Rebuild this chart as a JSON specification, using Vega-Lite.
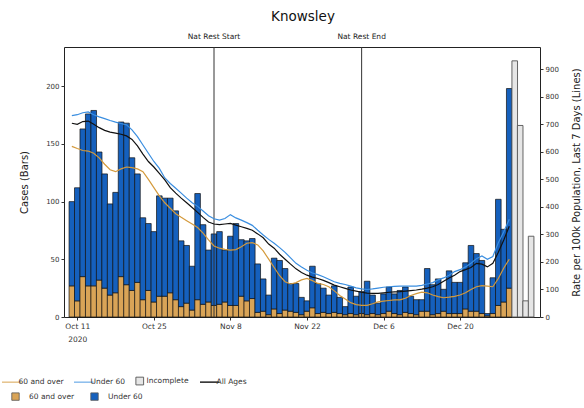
{
 "$schema": "https://vega.github.io/schema/vega-lite/v6.json",
 "width": 476,
 "height": 270,
 "autosize": {"type": "none"},
 "padding": {"left": 64, "top": 47, "right": 44, "bottom": 91},
 "background": "white",
 "config": {
  "font": "DejaVu Sans",
  "view": {"stroke": "#222", "strokeWidth": 1},
  "axis": {"domain": false, "grid": false, "labelFontSize": 7, "labelColor": "#333", "tickColor": "#333", "tickSize": 3, "labelPadding": 2, "titleFontWeight": "normal", "titleFontSize": 10, "titleColor": "#222"},
  "legend": {"labelFontSize": 7.5, "labelColor": "#333", "title": null}
 },
 "title": {"text": "Knowsley", "fontSize": 13.5, "fontWeight": "normal", "color": "#111", "frame": "group", "offset": 10, "dx": 1},
 "datasets": {
  "days": [
   {"date":"2020-10-10T00:00","o60":27,"u60":73,"ro60":620,"ru60":732,"rall":704},
   {"date":"2020-10-11T00:00","o60":14,"u60":98,"ro60":612,"ru60":735,"rall":700},
   {"date":"2020-10-12T00:00","o60":35,"u60":128,"ro60":605,"ru60":742,"rall":710},
   {"date":"2020-10-13T00:00","o60":27,"u60":149,"ro60":603,"ru60":745,"rall":712},
   {"date":"2020-10-14T00:00","o60":27,"u60":152,"ro60":595,"ru60":735,"rall":700},
   {"date":"2020-10-15T00:00","o60":32,"u60":111,"ro60":578,"ru60":727,"rall":688},
   {"date":"2020-10-16T00:00","o60":25,"u60":99,"ro60":555,"ru60":721,"rall":678},
   {"date":"2020-10-17T00:00","o60":19,"u60":79,"ro60":535,"ru60":714,"rall":672},
   {"date":"2020-10-18T00:00","o60":21,"u60":87,"ro60":528,"ru60":708,"rall":668},
   {"date":"2020-10-19T00:00","o60":35,"u60":134,"ro60":538,"ru60":703,"rall":664},
   {"date":"2020-10-20T00:00","o60":28,"u60":140,"ro60":545,"ru60":698,"rall":658},
   {"date":"2020-10-21T00:00","o60":23,"u60":115,"ro60":543,"ru60":680,"rall":645},
   {"date":"2020-10-22T00:00","o60":30,"u60":94,"ro60":538,"ru60":655,"rall":622},
   {"date":"2020-10-23T00:00","o60":15,"u60":71,"ro60":528,"ru60":625,"rall":592},
   {"date":"2020-10-24T00:00","o60":23,"u60":58,"ro60":500,"ru60":595,"rall":565},
   {"date":"2020-10-25T00:00","o60":13,"u60":61,"ro60":470,"ru60":565,"rall":545},
   {"date":"2020-10-26T00:00","o60":18,"u60":87,"ro60":440,"ru60":540,"rall":522},
   {"date":"2020-10-27T00:00","o60":18,"u60":85,"ro60":415,"ru60":505,"rall":498},
   {"date":"2020-10-28T00:00","o60":21,"u60":82,"ro60":395,"ru60":485,"rall":470},
   {"date":"2020-10-29T00:00","o60":15,"u60":77,"ro60":375,"ru60":468,"rall":450},
   {"date":"2020-10-30T00:00","o60":9,"u60":57,"ro60":362,"ru60":450,"rall":432},
   {"date":"2020-10-31T00:00","o60":12,"u60":50,"ro60":350,"ru60":432,"rall":415},
   {"date":"2020-11-01T00:00","o60":6,"u60":38,"ro60":338,"ru60":415,"rall":398},
   {"date":"2020-11-02T00:00","o60":15,"u60":92,"ro60":325,"ru60":402,"rall":380},
   {"date":"2020-11-03T00:00","o60":11,"u60":69,"ro60":305,"ru60":385,"rall":362},
   {"date":"2020-11-04T00:00","o60":13,"u60":45,"ro60":280,"ru60":368,"rall":345},
   {"date":"2020-11-05T00:00","o60":10,"u60":62,"ro60":258,"ru60":357,"rall":338},
   {"date":"2020-11-06T00:00","o60":11,"u60":63,"ro60":250,"ru60":352,"rall":336},
   {"date":"2020-11-07T00:00","o60":13,"u60":45,"ro60":246,"ru60":358,"rall":338},
   {"date":"2020-11-08T00:00","o60":10,"u60":60,"ro60":243,"ru60":372,"rall":340},
   {"date":"2020-11-09T00:00","o60":10,"u60":71,"ro60":245,"ru60":360,"rall":334},
   {"date":"2020-11-10T00:00","o60":18,"u60":49,"ro60":255,"ru60":352,"rall":328},
   {"date":"2020-11-11T00:00","o60":14,"u60":52,"ro60":268,"ru60":343,"rall":322},
   {"date":"2020-11-12T00:00","o60":16,"u60":52,"ro60":270,"ru60":333,"rall":315},
   {"date":"2020-11-13T00:00","o60":4,"u60":42,"ro60":262,"ru60":315,"rall":302},
   {"date":"2020-11-14T00:00","o60":5,"u60":28,"ro60":240,"ru60":298,"rall":288},
   {"date":"2020-11-15T00:00","o60":2,"u60":17,"ro60":210,"ru60":282,"rall":265},
   {"date":"2020-11-16T00:00","o60":7,"u60":44,"ro60":180,"ru60":268,"rall":250},
   {"date":"2020-11-17T00:00","o60":3,"u60":46,"ro60":150,"ru60":252,"rall":228},
   {"date":"2020-11-18T00:00","o60":6,"u60":36,"ro60":128,"ru60":235,"rall":210},
   {"date":"2020-11-19T00:00","o60":5,"u60":24,"ro60":120,"ru60":215,"rall":192},
   {"date":"2020-11-20T00:00","o60":4,"u60":25,"ro60":125,"ru60":195,"rall":175},
   {"date":"2020-11-21T00:00","o60":2,"u60":15,"ro60":135,"ru60":182,"rall":162},
   {"date":"2020-11-22T00:00","o60":5,"u60":9,"ro60":140,"ru60":170,"rall":152},
   {"date":"2020-11-23T00:00","o60":8,"u60":36,"ro60":132,"ru60":160,"rall":145},
   {"date":"2020-11-24T00:00","o60":3,"u60":26,"ro60":122,"ru60":154,"rall":140},
   {"date":"2020-11-25T00:00","o60":4,"u60":21,"ro60":118,"ru60":146,"rall":133},
   {"date":"2020-11-26T00:00","o60":3,"u60":16,"ro60":110,"ru60":137,"rall":125},
   {"date":"2020-11-27T00:00","o60":4,"u60":23,"ro60":95,"ru60":128,"rall":116},
   {"date":"2020-11-28T00:00","o60":3,"u60":14,"ro60":78,"ru60":122,"rall":110},
   {"date":"2020-11-29T00:00","o60":2,"u60":7,"ro60":65,"ru60":118,"rall":104},
   {"date":"2020-11-30T00:00","o60":3,"u60":23,"ro60":52,"ru60":112,"rall":98},
   {"date":"2020-12-01T00:00","o60":2,"u60":16,"ro60":45,"ru60":106,"rall":94},
   {"date":"2020-12-02T00:00","o60":3,"u60":19,"ro60":42,"ru60":102,"rall":90},
   {"date":"2020-12-03T00:00","o60":2,"u60":29,"ro60":42,"ru60":100,"rall":87},
   {"date":"2020-12-04T00:00","o60":3,"u60":16,"ro60":48,"ru60":102,"rall":86},
   {"date":"2020-12-05T00:00","o60":2,"u60":10,"ro60":55,"ru60":105,"rall":86},
   {"date":"2020-12-06T00:00","o60":3,"u60":17,"ro60":58,"ru60":108,"rall":88},
   {"date":"2020-12-07T00:00","o60":5,"u60":21,"ro60":60,"ru60":110,"rall":90},
   {"date":"2020-12-08T00:00","o60":3,"u60":17,"ro60":62,"ru60":111,"rall":91},
   {"date":"2020-12-09T00:00","o60":2,"u60":21,"ro60":62,"ru60":112,"rall":92},
   {"date":"2020-12-10T00:00","o60":4,"u60":22,"ro60":68,"ru60":112,"rall":94},
   {"date":"2020-12-11T00:00","o60":3,"u60":15,"ro60":78,"ru60":112,"rall":96},
   {"date":"2020-12-12T00:00","o60":2,"u60":13,"ro60":85,"ru60":112,"rall":98},
   {"date":"2020-12-13T00:00","o60":5,"u60":10,"ro60":90,"ru60":115,"rall":101},
   {"date":"2020-12-14T00:00","o60":5,"u60":37,"ro60":88,"ru60":120,"rall":105},
   {"date":"2020-12-15T00:00","o60":2,"u60":26,"ro60":80,"ru60":125,"rall":110},
   {"date":"2020-12-16T00:00","o60":3,"u60":30,"ro60":74,"ru60":135,"rall":118},
   {"date":"2020-12-17T00:00","o60":5,"u60":19,"ro60":70,"ru60":142,"rall":130},
   {"date":"2020-12-18T00:00","o60":3,"u60":37,"ro60":72,"ru60":152,"rall":142},
   {"date":"2020-12-19T00:00","o60":3,"u60":27,"ro60":75,"ru60":165,"rall":152},
   {"date":"2020-12-20T00:00","o60":3,"u60":27,"ro60":80,"ru60":172,"rall":165},
   {"date":"2020-12-21T00:00","o60":7,"u60":40,"ro60":88,"ru60":182,"rall":172},
   {"date":"2020-12-22T00:00","o60":5,"u60":57,"ro60":100,"ru60":195,"rall":180},
   {"date":"2020-12-23T00:00","o60":5,"u60":50,"ro60":110,"ru60":212,"rall":195},
   {"date":"2020-12-24T00:00","o60":3,"u60":46,"ro60":114,"ru60":222,"rall":192},
   {"date":"2020-12-25T00:00","o60":1,"u60":2,"ro60":112,"ru60":210,"rall":182},
   {"date":"2020-12-26T00:00","o60":3,"u60":31,"ro60":110,"ru60":220,"rall":195},
   {"date":"2020-12-27T00:00","o60":10,"u60":92,"ro60":140,"ru60":270,"rall":235},
   {"date":"2020-12-28T00:00","o60":13,"u60":63,"ro60":178,"ru60":310,"rall":280},
   {"date":"2020-12-29T00:00","o60":25,"u60":173,"ro60":210,"ru60":355,"rall":330}
  ],
  "incomplete": [
   {"date":"2020-12-30T00:00","lgd":"inc","cases":222},
   {"date":"2020-12-31T00:00","lgd":"inc","cases":166},
   {"date":"2021-01-01T00:00","lgd":"inc","cases":14},
   {"date":"2021-01-02T00:00","lgd":"inc","cases":70}
  ],
  "events": [
   {"date":"2020-11-05T00:00","label":"Nat Rest Start"},
   {"date":"2020-12-02T00:00","label":"Nat Rest End"}
  ]
 },
 "encoding": {
  "x": {
   "field": "date", "type": "temporal",
   "scale": {"domain": [{"year":2020,"month":10,"date":9,"hours":11,"minutes":30},{"year":2021,"month":1,"date":2,"hours":17}]},
   "axis": {
    "title": null,
    "values": [{"year":2020,"month":10,"date":11},{"year":2020,"month":10,"date":25},{"year":2020,"month":11,"date":8},{"year":2020,"month":11,"date":22},{"year":2020,"month":12,"date":6},{"year":2020,"month":12,"date":20}],
    "labelExpr": "timeFormat(datum.value, '%b %-d') == 'Oct 11' ? ['Oct 11', '2020'] : timeFormat(datum.value, '%b %-d')",
    "labelFontSize": 7.5,
    "labelLineHeight": 13
   }
  }
 },
 "layer": [
  {
   "data": {"name": "days"},
   "transform": [{"fold": ["o60", "u60"], "as": ["grp", "cases"]}],
   "mark": {"type": "bar", "width": 5.6, "stroke": "#111", "strokeWidth": 0.7},
   "encoding": {
    "y": {"field": "cases", "type": "quantitative", "stack": "zero",
          "scale": {"domain": [0, 234], "nice": false},
          "axis": {"title": "Cases (Bars)", "values": [0, 50, 100, 150, 200], "titlePadding": 16}},
    "order": {"field": "grp", "type": "nominal", "sort": "ascending"},
    "fill": {"field": "grp", "type": "nominal",
             "scale": {"domain": ["o60", "u60"], "range": ["#d9a457", "#1560bd"]},
             "legend": {"orient": "none", "legendX": -53, "legendY": 345, "direction": "horizontal",
                        "symbolType": "square", "symbolSize": 55, "symbolStrokeColor": "#555555", "symbolStrokeWidth": 0.8,
                        "columnPadding": 14, "labelOffset": 9,
                        "labelExpr": "datum.label == 'o60' ? '60 and over' : 'Under 60'"}}
   }
  },
  {
   "data": {"name": "incomplete"},
   "mark": {"type": "bar", "width": 5.6, "fill": "#e6e6e6", "strokeWidth": 0.9},
   "encoding": {
    "y": {"field": "cases", "type": "quantitative", "scale": {"domain": [0, 234], "nice": false}, "axis": null},
    "stroke": {"field": "lgd", "type": "nominal",
               "scale": {"domain": ["ro60", "ru60", "inc", "rall"], "range": ["#d49a3c", "#3a8ee0", "#555555", "#111111"]}}
   }
  },
  {
   "data": {"name": "events"},
   "mark": {"type": "rule", "color": "#333", "strokeWidth": 1},
   "encoding": {}
  },
  {
   "data": {"name": "events"},
   "mark": {"type": "text", "fontSize": 7.5, "dy": -10, "color": "#222"},
   "encoding": {
    "y": {"datum": 234, "type": "quantitative", "scale": {"domain": [0, 234], "nice": false}, "axis": null},
    "text": {"field": "label", "type": "nominal"}
   }
  },
  {
   "data": {"name": "days"},
   "transform": [{"fold": ["ro60", "ru60", "rall"], "as": ["lgd", "rate"]}],
   "mark": {"type": "line", "strokeWidth": 1.2},
   "encoding": {
    "y": {"field": "rate", "type": "quantitative",
          "scale": {"domain": [0, 981], "nice": false},
          "axis": {"orient": "right", "title": "Rate per 100k Population, Last 7 Days (Lines)", "values": [0,100,200,300,400,500,600,700,800,900], "titleAngle": -90, "titlePadding": 23}},
    "stroke": {"field": "lgd", "type": "nominal",
               "legend": {"orient": "none", "legendX": -56, "legendY": 330, "direction": "horizontal",
                          "symbolType": "stroke", "symbolSize": 380, "symbolStrokeWidth": 1, "columnPadding": 8, "labelOffset": 3,
                          "labelExpr": "datum.label == 'ro60' ? '60 and over' : datum.label == 'ru60' ? 'Under 60' : datum.label == 'inc' ? 'Incomplete' : 'All Ages'",
                          "encode": {"symbols": {"update": {
                            "shape": {"signal": "datum.value == 'inc' ? 'square' : 'stroke'"},
                            "size": {"signal": "datum.value == 'inc' ? 60 : 380"},
                            "fill": {"signal": "datum.value == 'inc' ? '#e6e6e6' : 'transparent'"},
                            "stroke": {"signal": "datum.value == 'rall' ? '#111' : '#666'"},
                            "strokeWidth": {"signal": "datum.value == 'rall' ? 1.4 : 0.9"}}}}}}
   }
  }
 ],
 "resolve": {"scale": {"y": "independent"}}
}
